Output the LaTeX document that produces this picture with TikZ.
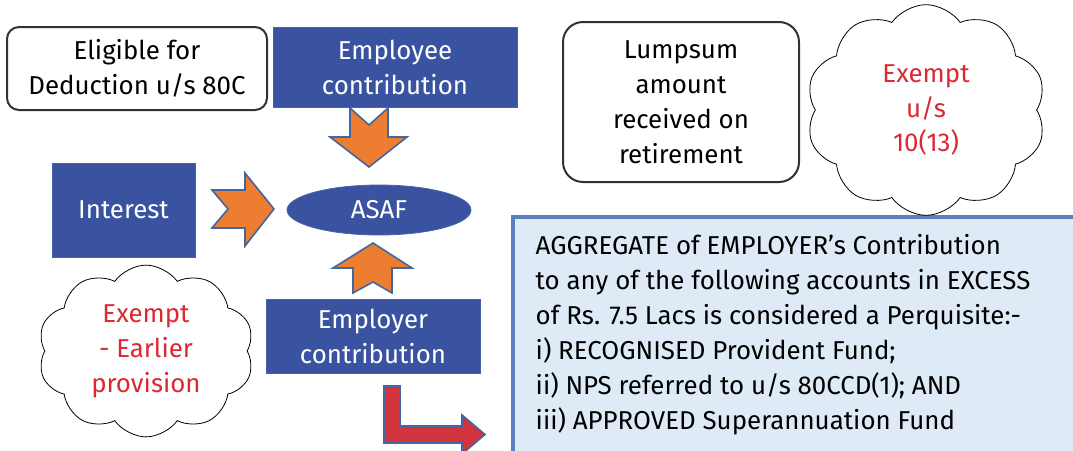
\documentclass[tikz,border=0pt]{standalone}
\usepackage{fontspec}
\setmainfont{Fira Sans}
\usetikzlibrary{shapes.symbols,shapes.geometric}
\definecolor{boxblue}{RGB}{57,83,160}
\definecolor{boxedge}{RGB}{70,100,170}
\definecolor{arroworange}{RGB}{237,125,49}
\definecolor{arrowedge}{RGB}{65,102,160}
\definecolor{txtred}{RGB}{220,40,50}
\definecolor{redarrow}{RGB}{209,52,60}
\definecolor{lightbox}{RGB}{222,235,247}
\definecolor{lightedge}{RGB}{90,126,193}
\definecolor{darkline}{RGB}{50,50,50}
\tikzset{
  txt/.style={font=\fontsize{19.4}{26.2}\selectfont, align=center},
  whitebox/.style={txt, draw=darkline, line width=1.5pt, rounded corners=9pt, text=black},
  bluebox/.style={txt, fill=boxblue, draw=boxedge, line width=0.6pt, text=white},
  cloudbox/.style={txt, cloud, cloud puffs=10, cloud puff arc=110, draw=black, line width=0.6pt, text=txtred},
  blockarrow/.style={fill=arroworange, draw=arrowedge, line width=1.2pt, line join=miter},
  redblock/.style={fill=redarrow, draw=arrowedge, line width=1.2pt}
}
\begin{document}
\begin{tikzpicture}[x=0.75pt,y=-0.75pt]
\useasboundingbox (0,0) rectangle (1073,450);

% big box
\draw[fill=lightbox, draw=lightedge, line width=3pt] (513,217) rectangle (1085,460);
\node[txt, align=left, anchor=west, text=black] (agg) at (531,334.5)
 {AGGREGATE of EMPLOYER's Contribution\\
  to any of the following accounts in EXCESS\\
  of Rs. 7.5 Lacs is considered a Perquisite:-\\
  i) RECOGNISED Provident Fund;\\
  ii) NPS referred to u/s 80CCD(1); AND\\
  iii) APPROVED Superannuation Fund};

\node[whitebox, minimum width=195pt, minimum height=62.25pt] (elig) at (137,68.5) {Eligible for\\Deduction u/s 80C};
\node[bluebox, minimum width=183pt, minimum height=60pt] (emp) at (395,67) {Employee\\contribution};
\node[bluebox, minimum width=107.25pt, minimum height=70.5pt] (int) at (123.5,210) {Interest};
\node[txt, ellipse, fill=boxblue, draw=boxedge, line width=0.6pt, text=white, minimum width=138pt, minimum height=37.5pt, inner sep=0pt] (asaf) at (379,210) {ASAF};
\node[bluebox, minimum width=160.5pt, minimum height=55.5pt] (empr) at (373,336) {Employer\\contribution};
\node[whitebox, rounded corners=15pt, minimum width=177pt, minimum height=120pt] (lump) at (681,102) {Lumpsum\\amount\\received on\\retirement};
\node[cloudbox, minimum width=180pt, minimum height=158pt, inner sep=0pt] (c1) at (926,110) {Exempt\\u/s\\10(13)};
\node[cloudbox, minimum width=162pt, minimum height=122pt, inner sep=0pt] (c2) at (146,351) {Exempt\\- Earlier\\provision};

% block arrows
\draw[blockarrow] (350,108) -- (369,125) -- (388,108) -- (388,137) -- (407,137) -- (369,167) -- (330,137) -- (350,137) -- cycle;
\draw[blockarrow] (212,190) -- (245,190) -- (245,173) -- (274,209) -- (245,246) -- (245,228) -- (212,228) -- (228,209) -- cycle;
\draw[blockarrow] (373,243) -- (412,268) -- (392,268) -- (392,293) -- (373,282) -- (353,293) -- (353,268) -- (333,268) -- cycle;
\draw[redblock] (384,386) -- (400,386) -- (400,426) -- (462,426) -- (462,415) -- (485,434.5) -- (462,454) -- (462,443) -- (384,443) -- cycle;
\end{tikzpicture}
\end{document}
